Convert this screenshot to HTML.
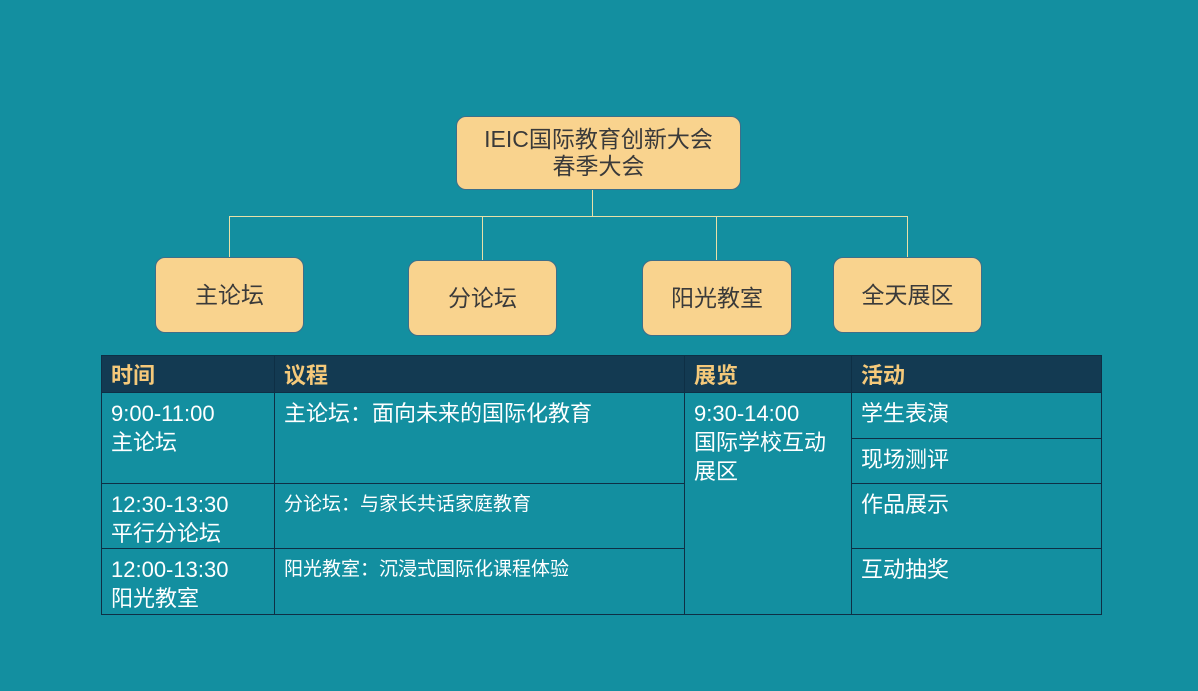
<!DOCTYPE html>
<html><head><meta charset="utf-8"><style>
body{margin:0;width:1198px;height:691px;background:#138fa0;position:relative;overflow:hidden;font-family:"Liberation Sans","Noto Sans CJK SC",sans-serif}
.b{position:absolute;background:#f9d38e;border:1px solid #3d6e8a;border-radius:10px;box-sizing:border-box;display:flex;align-items:center;justify-content:center;text-align:center;color:#3a3a3a;font-size:23px;line-height:27px}
.l{position:absolute;background:#e8e0a8}
.c{position:absolute;border:1px solid #0e2f45;box-sizing:border-box;color:#fff;font-size:22px;line-height:29px;padding:6px 9px 5px}
.h{background:#133a52;color:#f5c97a;font-weight:bold;padding:5px 9px 3px}
.s{font-size:19px}
</style></head><body>
<div class="l" style="left:592px;top:189px;width:1px;height:27px"></div>
<div class="l" style="left:229px;top:216px;width:679px;height:1px"></div>
<div class="l" style="left:229px;top:216px;width:1px;height:41px"></div>
<div class="l" style="left:482px;top:216px;width:1px;height:44px"></div>
<div class="l" style="left:716px;top:216px;width:1px;height:44px"></div>
<div class="l" style="left:907px;top:216px;width:1px;height:41px"></div>
<div class="b" style="left:456px;top:116px;width:285px;height:74px;font-size:23px">IEIC国际教育创新大会<br>春季大会</div>
<div class="b" style="left:155px;top:257px;width:149px;height:76px">主论坛</div>
<div class="b" style="left:408px;top:260px;width:149px;height:76px">分论坛</div>
<div class="b" style="left:642px;top:260px;width:150px;height:76px">阳光教室</div>
<div class="b" style="left:833px;top:257px;width:149px;height:76px">全天展区</div>
<div class="c h" style="left:101px;top:355px;width:174px;height:38px">时间</div>
<div class="c h" style="left:274px;top:355px;width:411px;height:38px">议程</div>
<div class="c h" style="left:684px;top:355px;width:168px;height:38px">展览</div>
<div class="c h" style="left:851px;top:355px;width:251px;height:38px">活动</div>
<div class="c" style="left:101px;top:392px;width:174px;height:92px">9:00-11:00<br>主论坛</div>
<div class="c" style="left:274px;top:392px;width:411px;height:92px">主论坛：面向未来的国际化教育</div>
<div class="c" style="left:684px;top:392px;width:168px;height:223px">9:30-14:00<br>国际学校互动<br>展区</div>
<div class="c" style="left:851px;top:392px;width:251px;height:47px">学生表演</div>
<div class="c" style="left:851px;top:438px;width:251px;height:46px">现场测评</div>
<div class="c" style="left:101px;top:483px;width:174px;height:66px">12:30-13:30<br>平行分论坛</div>
<div class="c s" style="left:274px;top:483px;width:411px;height:66px">分论坛：与家长共话家庭教育</div>
<div class="c" style="left:851px;top:483px;width:251px;height:66px">作品展示</div>
<div class="c" style="left:101px;top:548px;width:174px;height:67px">12:00-13:30<br>阳光教室</div>
<div class="c s" style="left:274px;top:548px;width:411px;height:67px">阳光教室：沉浸式国际化课程体验</div>
<div class="c" style="left:851px;top:548px;width:251px;height:67px">互动抽奖</div>
</body></html>
